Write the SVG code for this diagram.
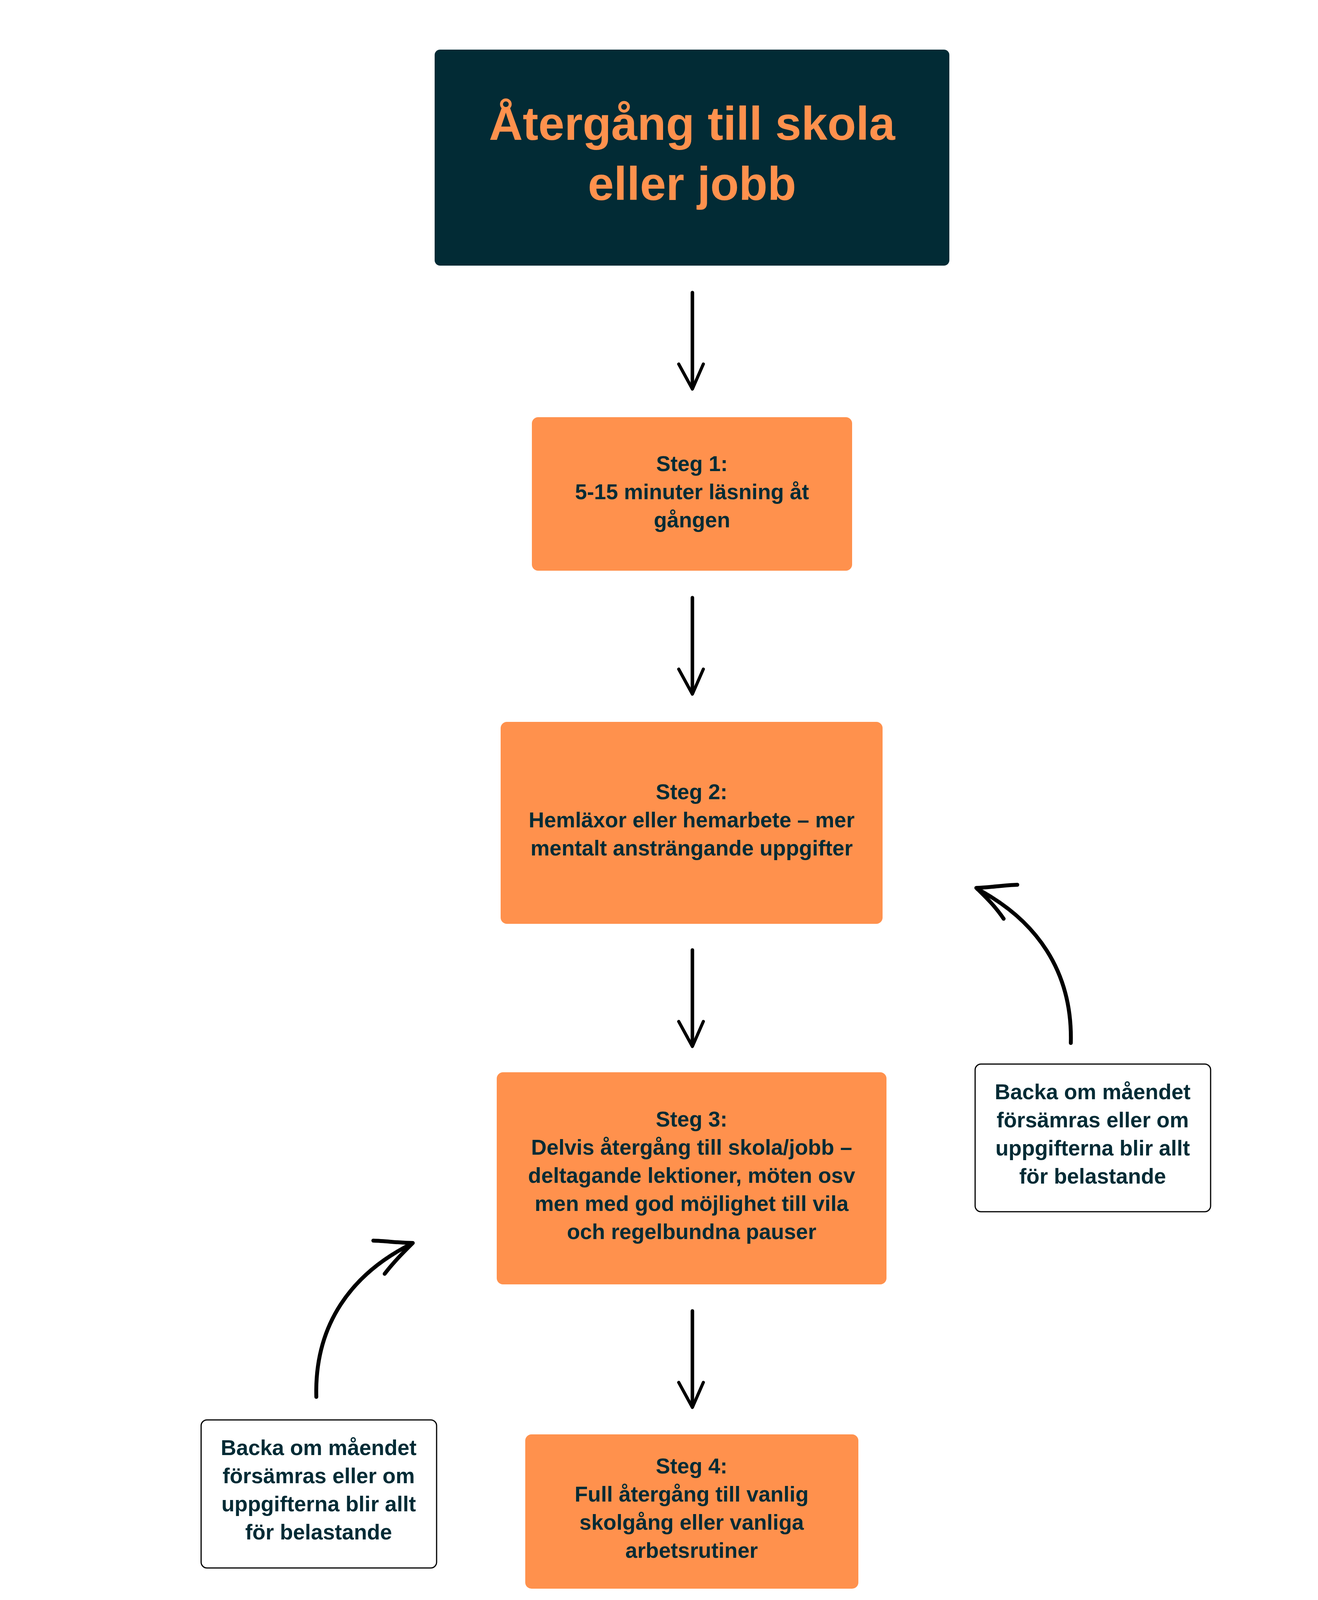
<svg xmlns="http://www.w3.org/2000/svg" width="3375" height="4219" viewBox="0 0 3375 4219">
<style>
.title{font-family:"Liberation Sans",Arial,sans-serif;font-weight:700;font-size:120px;fill:#FF914D;text-anchor:middle}
.t{font-family:"Liberation Sans",Arial,sans-serif;font-weight:700;font-size:55px;fill:#022B35;text-anchor:middle}
.step{fill:#FF914D}
.note{fill:#FFFFFF;stroke:#000000;stroke-width:3}
.shaft{fill:none;stroke:#000000;stroke-width:9;stroke-linecap:round}
.head{fill:none;stroke:#000000;stroke-width:8;stroke-linecap:round;stroke-linejoin:round}
.curve{fill:none;stroke:#000000;stroke-width:10;stroke-linecap:round;stroke-linejoin:round}
</style>
<rect width="3375" height="4219" fill="#FFFFFF"/>
<g id="title">
<rect x="1113" y="127" width="1318" height="553" rx="14" fill="#022B35"/>
<text class="title" x="1772" y="358">Återgång till skola</text>
<text class="title" x="1772" y="512">eller jobb</text>
</g>
<g id="steg1">
<rect class="step" x="1362" y="1068" width="820" height="393" rx="16"/>
<text class="t" x="1772" y="1206">Steg 1:</text>
<text class="t" x="1772" y="1278">5-15 minuter läsning åt</text>
<text class="t" x="1772" y="1350">gången</text>
</g>
<g id="steg2">
<rect class="step" x="1282" y="1848" width="978" height="517" rx="16"/>
<text class="t" x="1771" y="2046">Steg 2:</text>
<text class="t" x="1771" y="2118">Hemläxor eller hemarbete – mer</text>
<text class="t" x="1771" y="2190">mentalt ansträngande uppgifter</text>
</g>
<g id="steg3">
<rect class="step" x="1272" y="2745" width="998" height="543" rx="16"/>
<text class="t" x="1771" y="2884">Steg 3:</text>
<text class="t" x="1771" y="2956">Delvis återgång till skola/jobb –</text>
<text class="t" x="1771" y="3028">deltagande lektioner, möten osv</text>
<text class="t" x="1771" y="3100">men med god möjlighet till vila</text>
<text class="t" x="1771" y="3172">och regelbundna pauser</text>
</g>
<g id="steg4">
<rect class="step" x="1345" y="3672" width="853" height="395" rx="16"/>
<text class="t" x="1771" y="3772">Steg 4:</text>
<text class="t" x="1771" y="3844">Full återgång till vanlig</text>
<text class="t" x="1771" y="3916">skolgång eller vanliga</text>
<text class="t" x="1771" y="3988">arbetsrutiner</text>
</g>
<g id="note-right">
<rect class="note" x="2497" y="2724" width="603" height="378" rx="15"/>
<text class="t" x="2798" y="2814">Backa om måendet</text>
<text class="t" x="2798" y="2886">försämras eller om</text>
<text class="t" x="2798" y="2958">uppgifterna blir allt</text>
<text class="t" x="2798" y="3030">för belastande</text>
</g>
<g id="note-left">
<rect class="note" x="515" y="3635" width="603" height="379" rx="15"/>
<text class="t" x="816" y="3725">Backa om måendet</text>
<text class="t" x="816" y="3797">försämras eller om</text>
<text class="t" x="816" y="3869">uppgifterna blir allt</text>
<text class="t" x="816" y="3941">för belastande</text>
</g>
<g id="connectors">
<line class="shaft" x1="1773" y1="749" x2="1773" y2="994"/>
<path class="head" d="M1738 932 L1773 996 L1801 932"/>
<line class="shaft" x1="1773" y1="1530" x2="1773" y2="1775"/>
<path class="head" d="M1738 1713 L1773 1777 L1801 1713"/>
<line class="shaft" x1="1773" y1="2432" x2="1773" y2="2677"/>
<path class="head" d="M1738 2615 L1773 2679 L1801 2615"/>
<line class="shaft" x1="1773" y1="3356" x2="1773" y2="3601"/>
<path class="head" d="M1738 3539 L1773 3603 L1801 3539"/>
<path class="curve" d="M2742 2670 C2747 2485 2652 2355 2503 2276"/>
<path class="curve" d="M2605 2265 C2570 2266 2535 2272 2500 2273 C2525 2297 2550 2322 2570 2352"/>
<path class="curve" d="M810 3576 C805 3391 900 3261 1054 3184"/>
<path class="curve" d="M956 3176 C990 3177 1023 3182 1057 3182 C1033 3206 1007 3232 985 3261"/>
</g>
</svg>
